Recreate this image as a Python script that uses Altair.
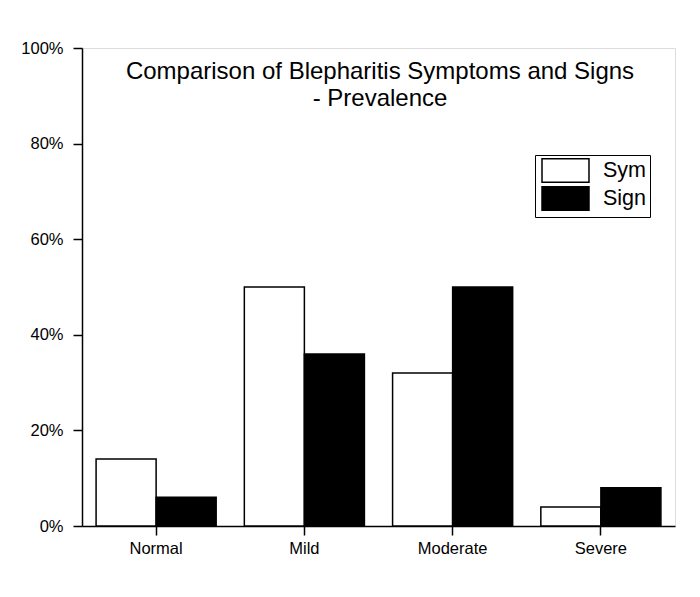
import altair as alt
import pandas as pd

categories = ["Normal", "Mild", "Moderate", "Severe"]
series = ["Sym", "Sign"]
sym_values = [0.14, 0.50, 0.32, 0.04]
sign_values = [0.06, 0.36, 0.50, 0.08]
y_ticks = [0, 0.2, 0.4, 0.6, 0.8, 1.0]
title_lines = ["Comparison of Blepharitis Symptoms and Signs", "- Prevalence"]

rows = []
for c, s, g in zip(categories, sym_values, sign_values):
    rows.append({"Category": c, "Series": "Sym", "Value": s})
    rows.append({"Category": c, "Series": "Sign", "Value": g})
df = pd.DataFrame(rows)

FONT = "Liberation Sans"
W, H = 593, 478

bars = alt.Chart(df).mark_bar(stroke="black", strokeWidth=1.5).encode(
    x=alt.X("Category:N", sort=categories,
            scale=alt.Scale(paddingInner=0.19, paddingOuter=0.095),
            axis=alt.Axis(title=None, labelAngle=0, labelFontSize=16.5, labelFont=FONT,
                          labelColor="black", domainColor="black", domainWidth=1.5,
                          tickColor="black", tickWidth=1.5, tickSize=9, labelPadding=5)),
    xOffset=alt.XOffset("Series:N", sort=series,
                        scale=alt.Scale(domain=series, paddingInner=0, paddingOuter=0)),
    y=alt.Y("Value:Q", scale=alt.Scale(domain=[0, 1], nice=False),
            axis=alt.Axis(title=None, values=y_ticks, format=".0%", grid=False,
                          labelFontSize=16.5, labelFont=FONT, labelColor="black",
                          domainColor="black", domainWidth=1.5, tickColor="black",
                          tickWidth=1.5, tickSize=9, labelPadding=10)),
    fill=alt.Fill("Series:N", sort=series,
                  scale=alt.Scale(domain=series, range=["white", "black"]),
                  legend=alt.Legend(title=None, orient="none", legendX=453, legendY=107,
                                    symbolType="M-2,-1H2V1H-2Z", symbolSize=552,
                                    symbolOffset=15,
                                    symbolStrokeColor="black", symbolStrokeWidth=1.5,
                                    labelFontSize=21.5, labelFont=FONT, labelColor="black",
                                    labelOffset=25, rowPadding=-4.5, padding=3,
                                    strokeColor="black", direction="vertical")),
)

title = alt.Chart(pd.DataFrame({"t": [0]})).mark_text(
    text=title_lines, fontSize=24, font=FONT, color="black", align="center",
    baseline="alphabetic", lineHeight=27,
).encode(x=alt.value(W / 2 + 1.5), y=alt.value(31))

chart = alt.layer(bars, title).properties(
    width=W, height=H,
    autosize=alt.AutoSizeParams(type="none"),
    padding={"left": 74, "top": 40, "right": 10, "bottom": 70},
).configure_view(stroke=None).configure(background="white")

chart.save("out.html", embed_options={"renderer": "svg", "actions": False})
